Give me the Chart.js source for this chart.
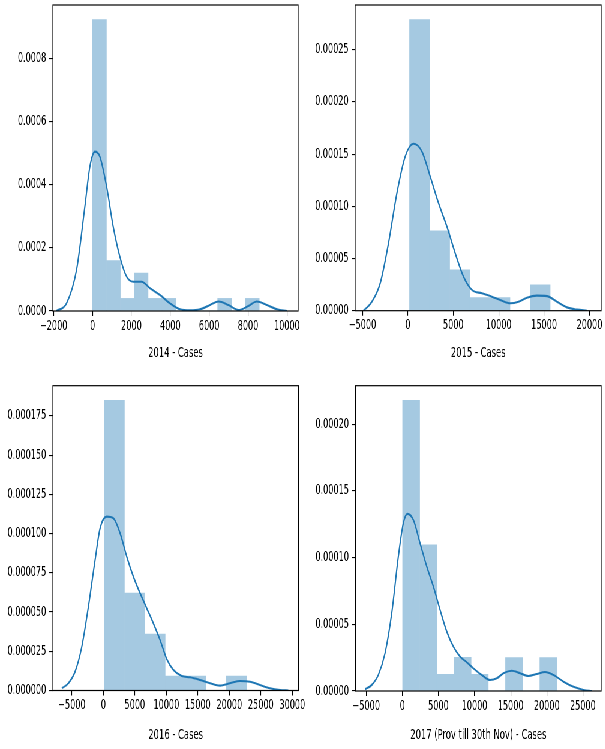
<!DOCTYPE html>
<html>
<head>
<meta charset="utf-8">
<script src="https://cdn.jsdelivr.net/npm/chart.js@4/dist/chart.umd.min.js"></script>
<style>
  html, body { margin: 0; padding: 0; background: #fff; overflow: hidden; }
  /* the figure is laid out wide and then condensed horizontally */
  #fig { position: absolute; left: 0; top: 0; width: 1008px; height: 749px;
         transform: scaleX(0.6); transform-origin: 0 0; }
  #fig canvas { position: absolute; }
</style>
</head>
<body>
<div id="fig">
  <canvas id="p2014" width="530" height="366" style="left:0px;top:0px"></canvas>
  <canvas id="p2015" width="530" height="366" style="left:504px;top:0px"></canvas>
  <canvas id="p2016" width="530" height="376" style="left:0px;top:372px"></canvas>
  <canvas id="p2017" width="530" height="376" style="left:504px;top:372px"></canvas>
</div>
<script>
// ---- 2014 ----
const edges2014   = [0, 715, 1430, 2145, 2860, 3575, 4290, 5005, 5720, 6435, 7150, 7865, 8580];
const density2014 = [0.000925, 0.00016, 0.00004, 0.00012, 0.00004, 0.00004, 0, 0, 0, 0.00004, 0, 0.00004];
const kdeX2014 = [-1856, -1340, -825, -397, -139, 119, 376, 722, 1062, 1407, 1753, 2093, 2526, 2954, 3469, 3985, 4500, 5015, 5531, 6046, 6474, 6990, 7505, 8021, 8454, 8969, 9485, 10000];
const kdeY2014 = [0, 0.0000243, 0.00013, 0.000331, 0.000458, 0.000506, 0.00049, 0.000395, 0.000268, 0.000172, 0.000109, 0.000093, 0.000093, 0.000072, 0.000051, 0.0000243, 0.0000053, 0.000002, 0.0000053, 0.000019, 0.00003, 0.000019, 0.000003, 0.000016, 0.00003, 0.000019, 0.0000053, 0];
const xRange2014 = [-2046, 10582];
const xTicks2014 = [-2000, 0, 2000, 4000, 6000, 8000, 10000];
const xLabels2014 = ['\u22122000', '0', '2000', '4000', '6000', '8000', '10000'];
const yTicks2014 = [0, 0.0002, 0.0004, 0.0006, 0.0008];
const yLabels2014 = ['0.0000', '0.0002', '0.0004', '0.0006', '0.0008'];

// ---- 2015 ----
const edges2015   = [176, 2390, 4604, 6818, 9032, 11246, 13460, 15674];
const density2015 = [0.000279, 0.0000765, 0.0000391, 0.0000125, 0.0000125, 0, 0.0000247];
const kdeX2015 = [-4890, -3965, -3050, -2136, -1211, -297, 617, 1542, 2456, 3370, 4295, 5209, 6123, 7048, 8150, 9251, 10165, 11267, 12181, 13106, 14207, 15308, 16410, 17511, 18612, 19714];
const kdeY2015 = [0, 0.0000086, 0.0000263, 0.0000647, 0.0001127, 0.0001478, 0.00016, 0.0001526, 0.0001286, 0.0001031, 0.0000806, 0.0000551, 0.0000326, 0.0000199, 0.0000167, 0.0000134, 0.0000103, 0.0000071, 0.0000086, 0.0000125, 0.0000144, 0.000014, 0.0000086, 0.0000032, 0.000001, 0];
const xRange2015 = [-5804, 21288];
const xTicks2015 = [-5000, 0, 5000, 10000, 15000, 20000];
const xLabels2015 = ['\u22125000', '0', '5000', '10000', '15000', '20000'];
const yTicks2015 = [0, 0.00005, 0.0001, 0.00015, 0.0002, 0.00025];
const yLabels2015 = ['0.00000', '0.00005', '0.00010', '0.00015', '0.00020', '0.00025'];

// ---- 2016 ----
const edges2016   = [110, 3346, 6582, 9818, 13054, 16290, 19526, 22762];
const density2016 = [0.000185, 0.0000621, 0.0000359, 0.0000092, 0.0000092, 0, 0.0000092];
const kdeX2016 = [-6603, -5556, -4492, -3429, -2381, -1317, -524, 540, 1587, 2651, 3714, 4762, 5825, 6889, 7937, 9000, 10063, 11111, 12444, 13762, 15349, 16937, 18524, 20111, 21698, 23286, 24873, 26460, 28048, 29365];
const kdeY2016 = [0.0000014, 0.0000046, 0.000012, 0.0000279, 0.0000534, 0.0000832, 0.0001034, 0.0001108, 0.0001098, 0.0001003, 0.0000853, 0.0000726, 0.000062, 0.0000524, 0.0000428, 0.0000322, 0.00002, 0.0000131, 0.0000092, 0.0000084, 0.0000067, 0.0000046, 0.0000031, 0.0000046, 0.0000061, 0.0000056, 0.0000035, 0.0000014, 0.0000003, 0];
const xRange2016 = [-8032, 30984];
const xTicks2016 = [-5000, 0, 5000, 10000, 15000, 20000, 25000, 30000];
const xLabels2016 = ['\u22125000', '0', '5000', '10000', '15000', '20000', '25000', '30000'];
const yTicks2016 = [0, 0.000025, 0.00005, 0.000075, 0.0001, 0.000125, 0.00015, 0.000175];
const yLabels2016 = ['0.000000', '0.000025', '0.000050', '0.000075', '0.000100', '0.000125', '0.000150', '0.000175'];

// ---- 2017 (provisional, till 30th Nov) ----
const edges2017   = [30, 2405, 4780, 7155, 9530, 11905, 14280, 16655, 19030, 21405];
const density2017 = [0.000218, 0.0001095, 0.0000125, 0.0000253, 0.0000125, 0, 0.000025, 0, 0.000025];
const kdeX2017 = [-5169, -4241, -3326, -2397, -1469, -554, 139, 693, 1524, 2453, 3381, 4296, 5224, 6153, 7068, 7996, 8925, 9839, 11003, 12154, 13082, 13997, 15161, 16311, 17461, 18625, 19776, 20926, 22312, 23697, 25083, 26247];
const kdeY2017 = [0.0000013, 0.0000045, 0.000012, 0.0000283, 0.0000583, 0.0001008, 0.0001258, 0.0001328, 0.0001283, 0.0001108, 0.0000933, 0.0000783, 0.0000608, 0.0000445, 0.0000333, 0.0000258, 0.0000215, 0.000017, 0.000012, 0.0000083, 0.0000095, 0.0000133, 0.0000152, 0.0000133, 0.0000113, 0.0000128, 0.0000142, 0.000012, 0.000007, 0.0000032, 0.0000008, 0];
const xRange2017 = [-6486, 27536];
const xTicks2017 = [-5000, 0, 5000, 10000, 15000, 20000, 25000];
const xLabels2017 = ['\u22125000', '0', '5000', '10000', '15000', '20000', '25000'];
const yTicks2017 = [0, 0.00005, 0.0001, 0.00015, 0.0002];
const yLabels2017 = ['0.00000', '0.00005', '0.00010', '0.00015', '0.00020'];

Chart.defaults.font.family = "'DejaVu Sans', sans-serif";
Chart.defaults.font.size = 13.5;
Chart.defaults.color = '#000';

// black frame around each plotting area (all four spines)
const framePlugin = {
  id: 'frame',
  afterDatasetsDraw(chart) {
    const { ctx, chartArea: a } = chart;
    ctx.save();
    ctx.strokeStyle = '#000';
    ctx.lineWidth = 1.2;
    ctx.strokeRect(a.left, a.top, a.right - a.left, a.bottom - a.top);
    ctx.restore();
  }
};

function histPanel(id, p) {
  const bars = p.density.map((d, i) => ({ x: (p.edges[i] + p.edges[i + 1]) / 2, y: d }));
  const kde = p.kdeX.map((x, i) => ({ x: x, y: p.kdeY[i] }));
  new Chart(document.getElementById(id), {
    type: 'bar',
    data: {
      datasets: [
        {
          type: 'line', data: kde, order: 0,
          borderColor: '#1f77b4', borderWidth: 2.1, pointRadius: 0,
          tension: 0.4, cubicInterpolationMode: 'monotone', fill: false
        },
        {
          type: 'bar', data: bars, order: 1,
          backgroundColor: '#a5c9e1', borderWidth: 0,
          barPercentage: 1, categoryPercentage: 1
        }
      ]
    },
    options: {
      responsive: false,
      animation: false,
      devicePixelRatio: 1,
      layout: { padding: { left: 0, top: p.padTop, right: p.padRight, bottom: 0 } },
      plugins: { legend: { display: false }, tooltip: { enabled: false } },
      scales: {
        x: {
          type: 'linear', min: p.xRange[0], max: p.xRange[1], offset: false,
          afterBuildTicks: s => { s.ticks = p.xTicks.map(v => ({ value: v })); },
          afterFit: s => { s.height = p.axisH; s.paddingLeft = 0; s.paddingRight = 0; },
          ticks: { autoSkip: false, maxRotation: 0, minRotation: 0, padding: 2,
                   callback: (v, i) => p.xLabels[i] },
          grid: { drawOnChartArea: false, drawTicks: true, tickLength: 5,
                  color: '#000', lineWidth: 1.1, offset: false },
          border: { display: false },
          title: { display: true, text: p.title, font: { size: 14 }, padding: { top: 0, bottom: 4 } }
        },
        y: {
          type: 'linear', min: 0, max: Math.max(...p.density) * 1.05,
          afterBuildTicks: s => { s.ticks = p.yTicks.map(v => ({ value: v })); },
          afterFit: s => { s.width = p.axisW; s.paddingTop = 0; s.paddingBottom = 0; },
          ticks: { autoSkip: false, padding: 5, callback: (v, i) => p.yLabels[i] },
          grid: { drawOnChartArea: false, drawTicks: true, tickLength: 6,
                  color: '#000', lineWidth: 1.1 },
          border: { display: false }
        }
      }
    },
    plugins: [framePlugin]
  });
}

histPanel('p2014', { edges: edges2014, density: density2014, kdeX: kdeX2014, kdeY: kdeY2014,
  xRange: xRange2014, xTicks: xTicks2014, xLabels: xLabels2014, yTicks: yTicks2014, yLabels: yLabels2014,
  title: '2014 - Cases', padTop: 5, padRight: 33, axisW: 88, axisH: 55 });
histPanel('p2015', { edges: edges2015, density: density2015, kdeX: kdeX2015, kdeY: kdeY2015,
  xRange: xRange2015, xTicks: xTicks2015, xLabels: xLabels2015, yTicks: yTicks2015, yLabels: yLabels2015,
  title: '2015 - Cases', padTop: 5, padRight: 32, axisW: 88, axisH: 55.3 });
histPanel('p2016', { edges: edges2016, density: density2016, kdeX: kdeX2016, kdeY: kdeY2016,
  xRange: xRange2016, xTicks: xTicks2016, xLabels: xLabels2016, yTicks: yTicks2016, yLabels: yLabels2016,
  title: '2016 - Cases', padTop: 13.7, padRight: 32.5, axisW: 88, axisH: 57.5 });
histPanel('p2017', { edges: edges2017, density: density2017, kdeX: kdeX2017, kdeY: kdeY2017,
  xRange: xRange2017, xTicks: xTicks2017, xLabels: xLabels2017, yTicks: yTicks2017, yLabels: yLabels2017,
  title: '2017 (Prov till 30th Nov) - Cases', padTop: 13.7, padRight: 32, axisW: 88.5, axisH: 57 });
</script>
</body>
</html>
